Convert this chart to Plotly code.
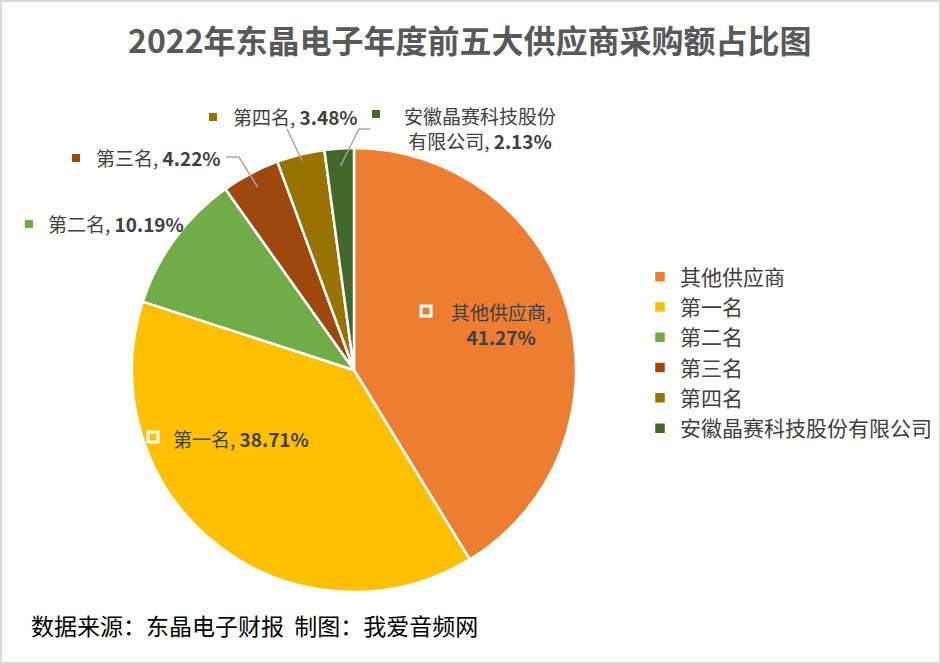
import math
import plotly.graph_objects as go

# ---- data ----
labels = ["其他供应商", "第一名", "第二名", "第三名", "第四名", "安徽晶赛科技股份有限公司"]
values = [41.27, 38.71, 10.19, 4.22, 3.48, 2.13]
colors = ["#ED7D31", "#FFC000", "#70AD47", "#9E480E", "#997300", "#43682B"]
title_text = "2022年东晶电子年度前五大供应商采购额占比图"
footer_text = "数据来源：东晶电子财报  制图：我爱音频网"

# ---- layout geometry (pixels) ----
W, H = 941, 664
CX, CY, R = 354, 370, 222
CJK = "Noto Sans CJK SC"
TXT = "#404040"


def P(x, y):
    return x / W, 1 - y / H


def rim(i, frac):
    tot = sum(values)
    start = sum(values[:i]) / tot * 360
    mid = math.radians(start + values[i] / tot * 180)
    return CX + math.sin(mid) * R * frac, CY - math.cos(mid) * R * frac


fig = go.Figure(go.Pie(
    labels=labels, values=values, sort=False, direction="clockwise", rotation=0,
    marker=dict(colors=colors, line=dict(color="white", width=2.5)),
    textinfo="none", hoverinfo="label+percent",
    domain=dict(x=[(CX - R) / W, (CX + R) / W], y=[(H - CY - R) / H, (H - CY + R) / H]),
))

ann = []
shapes = []


def label(x, y, txt, anchor="left", size=19):
    ax, ay = P(x, y)
    ann.append(dict(x=ax, y=ay, xref="paper", yref="paper", text=txt, showarrow=False,
                    xanchor=anchor, yanchor="middle", align="center",
                    font=dict(family=CJK, size=size, color=TXT)))


def square(x, y, s, fill, line=None, lw=0):
    x0, y0 = P(x - s / 2, y - s / 2)
    x1, y1 = P(x + s / 2, y + s / 2)
    shapes.append(dict(type="rect", xref="paper", yref="paper", x0=x0, y0=y0, x1=x1, y1=y1,
                       fillcolor=fill, line=dict(color=line or fill, width=lw)))


def leader(pts):
    path = "M " + " L ".join(f"{P(px, py)[0]:.5f},{P(px, py)[1]:.5f}" for px, py in pts)
    shapes.append(dict(type="path", xref="paper", yref="paper", path=path,
                       line=dict(color="#A6A6A6", width=1.5)))


def pct(i):
    return f"<b>{values[i]:.2f}%</b>"


# inside labels
square(426, 311, 10, colors[0], "white", 3)
label(501, 324, f"{labels[0]},<br>{pct(0)}", anchor="center")
square(153, 437, 10, colors[1], "white", 3)
label(171, 438, f"{labels[1]}, {pct(1)}")

# outside labels
square(29, 224, 8, colors[2])
label(46, 224, f"{labels[2]}, {pct(2)}")

square(76, 158, 8, colors[3])
label(94, 158, f"{labels[3]}, {pct(3)}")
leader([(226, 157), (239, 157), rim(3, 0.93)])

square(213, 117, 8, colors[4])
label(231, 117, f"{labels[4]}, {pct(4)}")
leader([(287, 129), rim(4, 0.97)])

square(376, 114, 8, colors[5])
label(480, 128, f"{labels[5][:8]}<br>{labels[5][8:]}, {pct(5)}", anchor="center")
leader([(370, 129), (359, 129), rim(5, 0.92)])

# title and footer
tx, ty = P(470, 39)
ann.append(dict(x=tx, y=ty, xref="paper", yref="paper", text=f"<b>{title_text}</b>",
                showarrow=False, xanchor="center", yanchor="middle",
                font=dict(family=CJK, size=32, color="#595959")))
fx, fy = P(29, 625)
ann.append(dict(x=fx, y=fy, xref="paper", yref="paper", text=footer_text,
                showarrow=False, xanchor="left", yanchor="middle",
                font=dict(family=CJK, size=23, color="#000000")))

# chart border
shapes.append(dict(type="rect", xref="paper", yref="paper", x0=0.001, y0=0.0015, x1=0.999, y1=0.9985,
                   line=dict(color="#D9D9D9", width=2), fillcolor="rgba(0,0,0,0)"))

lx, ly = P(640, 256.5)
fig.update_layout(
    width=W, height=H, margin=dict(l=0, r=0, t=0, b=0),
    paper_bgcolor="white", plot_bgcolor="white",
    showlegend=True,
    legend=dict(x=lx, y=ly, xanchor="left", yanchor="top",
                font=dict(family=CJK, size=21, color=TXT), bgcolor="rgba(0,0,0,0)"),
    annotations=ann, shapes=shapes,
)

fig.write_html("out.html")
